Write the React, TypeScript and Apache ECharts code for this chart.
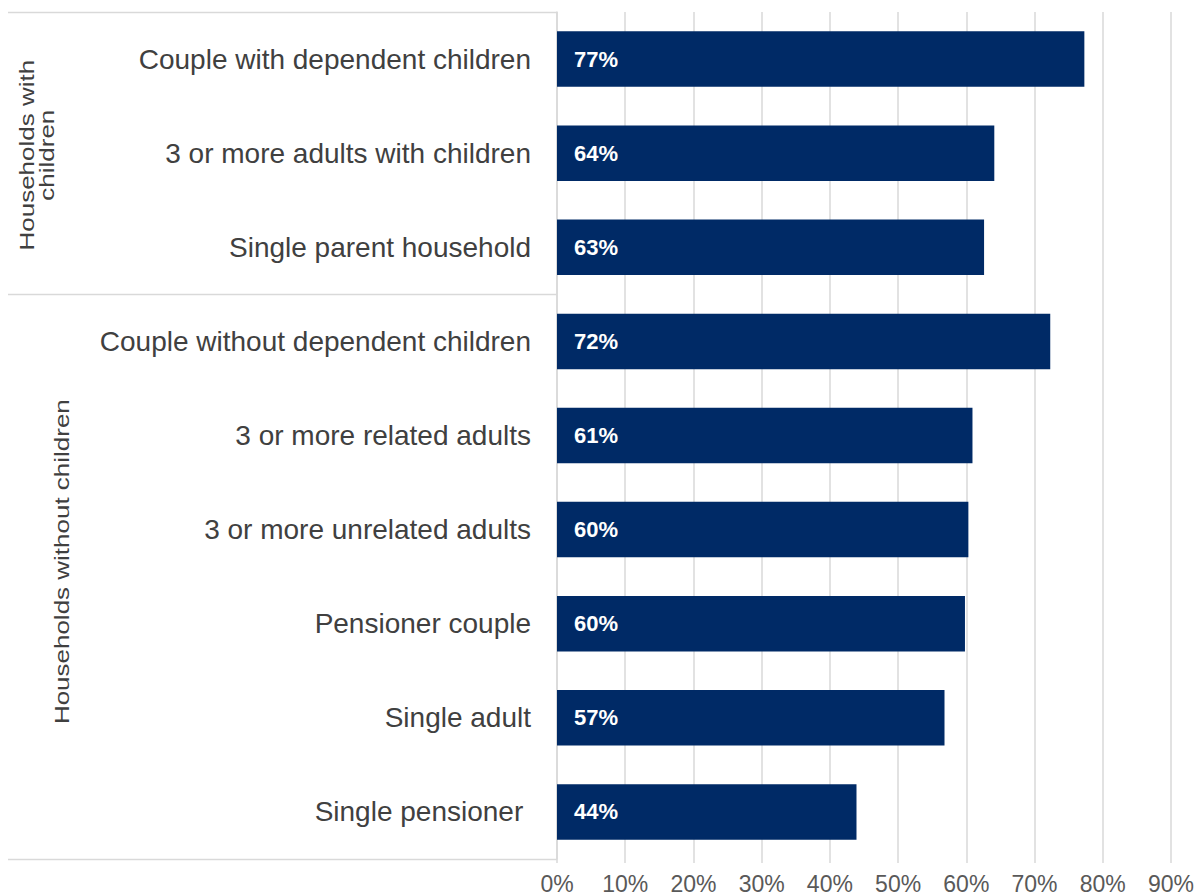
import React, { useEffect, useRef } from "react";
import * as echarts from "echarts";

const categories = [
  "Couple with dependent children",
  "3 or more adults with children",
  "Single parent household",
  "Couple without dependent children",
  "3 or more related adults",
  "3 or more unrelated adults",
  "Pensioner couple",
  "Single adult",
  "Single pensioner ",
];
const values = [77.3, 64.1, 62.6, 72.3, 60.9, 60.3, 59.8, 56.8, 43.9];
const groupLabels = ["Households with\nchildren", "Households without children"];
const groupSizes = [3, 6];
const xMin = 0;
const xMax = 90;
const xStep = 10;

const FONT = "'Liberation Sans', Arial, sans-serif";
const GRID = "#d9d9d9";

export default function App() {
  const ref = useRef<HTMLDivElement>(null);
  useEffect(() => {
    const chart = echarts.init(ref.current!, null, { renderer: "svg" });
    chart.setOption({
      animation: false,
      backgroundColor: "#ffffff",
      grid: { left: 557, right: 29, top: 12, bottom: 33, containLabel: false },
      xAxis: {
        type: "value",
        min: xMin,
        max: xMax,
        interval: xStep,
        axisLine: { show: false },
        axisTick: { show: true, length: 4, lineStyle: { color: GRID, width: 1.5 } },
        splitLine: { show: true, lineStyle: { color: GRID, width: 1.5 } },
        axisLabel: {
          formatter: "{value}%",
          color: "#595959",
          fontSize: 23,
          fontFamily: FONT,
          margin: 13,
        },
      },
      yAxis: {
        type: "category",
        inverse: true,
        data: categories,
        axisLine: { show: true, lineStyle: { color: GRID, width: 1.5 } },
        axisTick: { show: false },
        axisLabel: {
          color: "#404040",
          fontSize: 28,
          fontFamily: FONT,
          margin: 26,
        },
      },
      series: [
        {
          type: "bar",
          data: values,
          barCategoryGap: "41%",
          itemStyle: { color: "#002a66" },
          label: {
            show: true,
            position: "insideLeft",
            distance: 17,
            color: "#ffffff",
            fontWeight: "bold",
            fontSize: 22,
            fontFamily: FONT,
            formatter: (p: any) => Math.round(p.value) + "%",
          },
        },
      ],
    });

    const c0 = chart.convertToPixel({ yAxisIndex: 0 }, 0) as number;
    const c1 = chart.convertToPixel({ yAxisIndex: 0 }, 1) as number;
    const bw = c1 - c0;
    const top = c0 - bw / 2;
    const xRight = chart.convertToPixel({ xAxisIndex: 0 }, xMin) as number;
    const xLeft = 8;

    const graphics: any[] = [];
    let idx = 0;
    const boundaries = [0];
    groupSizes.forEach((s) => {
      idx += s;
      boundaries.push(idx);
    });
    boundaries.forEach((b) => {
      const y = Math.round(top + b * bw) + 0.5;
      graphics.push({
        type: "line",
        shape: { x1: xLeft, y1: y, x2: xRight, y2: y },
        style: { stroke: GRID, lineWidth: 1.5 },
        silent: true,
      });
    });
    const labelX = [37, 62];
    const labelDy = [2, -15];
    groupLabels.forEach((t, i) => {
      const yc = top + ((boundaries[i] + boundaries[i + 1]) / 2) * bw + labelDy[i];
      graphics.push({
        type: "text",
        x: labelX[i],
        y: yc,
        rotation: Math.PI / 2,
        scaleY: 0.78,
        style: {
          text: t,
          fill: "#404040",
          fontSize: 26,
          fontFamily: FONT,
          lineHeight: 26,
          textAlign: "center",
          textVerticalAlign: "middle",
        },
        silent: true,
      });
    });
    chart.setOption({ graphic: graphics });

    return () => chart.dispose();
  }, []);
  return (
    <div
      ref={ref}
      style={{ position: "absolute", left: 0, top: 0, width: 1200, height: 895 }}
    />
  );
}
